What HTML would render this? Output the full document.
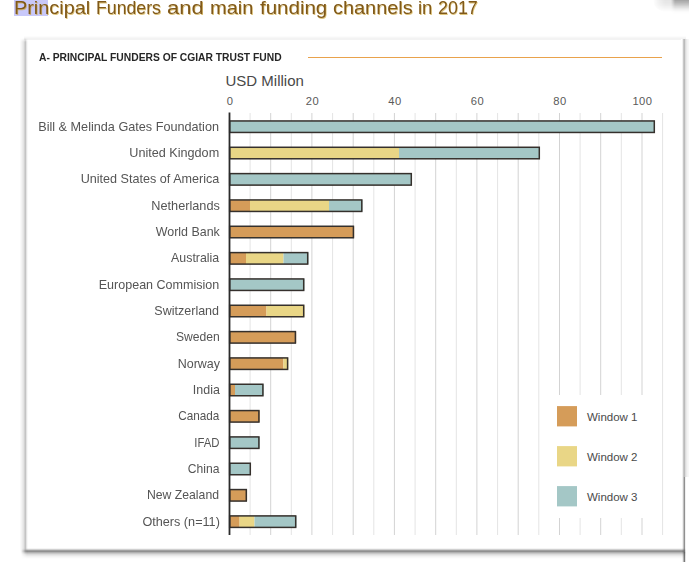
<!DOCTYPE html>
<html><head><meta charset="utf-8"><title>Principal Funders</title>
<style>
html,body{margin:0;padding:0;background:#fff;}
body{width:689px;height:562px;position:relative;overflow:hidden;font-family:"Liberation Sans",sans-serif;}
.hl{position:absolute;left:14px;top:0;width:34px;height:16px;background:#c8c8fa;}
.tw{position:absolute;top:-3.9px;font-size:19px;line-height:24px;color:#80591a;white-space:nowrap;text-shadow:0.7px 0.7px 0.5px rgba(205,165,50,0.65);transform-origin:0 0;}
.blob{position:absolute;left:671px;top:0;width:18px;height:14px;background:linear-gradient(to bottom,rgba(0,0,0,0.29) 0,rgba(0,0,0,0.2) 3px,rgba(0,0,0,0.11) 6px,rgba(0,0,0,0.04) 9px,rgba(0,0,0,0.01) 12px,rgba(0,0,0,0) 14px);-webkit-mask-image:linear-gradient(to right,transparent 0,#000 4px);mask-image:linear-gradient(to right,transparent 0,#000 4px);}
.blob3{position:absolute;left:653px;top:0;width:36px;height:12px;border-bottom-left-radius:14px 12px;background:linear-gradient(to bottom,rgba(0,0,0,0.10) 0,rgba(0,0,0,0.085) 4px,rgba(0,0,0,0.04) 8px,rgba(0,0,0,0) 12px);-webkit-mask-image:linear-gradient(to right,transparent 0,rgba(0,0,0,0.6) 6px,#000 12px);}
.eL{position:absolute;left:20px;top:38px;width:9px;height:516px;background:linear-gradient(to right,rgba(0,0,0,0.0) 0px,rgba(0,0,0,0.02) 0.5px,rgba(0,0,0,0.043) 1.5px,rgba(0,0,0,0.075) 2.5px,rgba(0,0,0,0.106) 3.5px,rgba(0,0,0,0.176) 4.5px,rgba(0,0,0,0.231) 5.5px,rgba(0,0,0,0.106) 6.5px,rgba(0,0,0,0.027) 7.5px,rgba(0,0,0,0.0) 8.5px);-webkit-mask-image:linear-gradient(to bottom,transparent 0,#000 4px,#000 510px,transparent 516px);}
.eR{position:absolute;left:681px;top:39px;width:8px;height:438px;background:linear-gradient(to right,#fff 0.5px,#f0f0f0 1.5px,#c8c8c8 2.5px,#bbbbbb 3.5px,#dcdcdc 4.5px,#eaeaea 5.5px,#f3f3f3 6.5px,#f7f7f7 7.5px);}
.eR2{position:absolute;left:681px;top:477px;width:8px;height:85px;background:linear-gradient(to right,#fff 0.5px,#f0f0f0 1.5px,#c0c0c0 2.5px,#909090 3.5px,#f0f0f0 4.5px,#fff 5.5px);}
.eR3{position:absolute;left:683px;top:552px;width:3px;height:10px;background:linear-gradient(to right,rgba(0,0,0,0) 0,rgba(0,0,0,0.16) 1.5px,rgba(0,0,0,0) 3px);}
.eB{position:absolute;left:21px;top:548px;width:665px;height:11px;background:linear-gradient(to bottom,rgba(0,0,0,0.0) 0px,rgba(0,0,0,0.043) 0.5px,rgba(0,0,0,0.184) 1.5px,rgba(0,0,0,0.373) 2.5px,rgba(0,0,0,0.435) 3.5px,rgba(0,0,0,0.31) 4.5px,rgba(0,0,0,0.216) 5.5px,rgba(0,0,0,0.137) 6.5px,rgba(0,0,0,0.09) 7.5px,rgba(0,0,0,0.051) 8.5px,rgba(0,0,0,0.027) 9.5px,rgba(0,0,0,0.008) 10.5px,rgba(0,0,0,0.0) 11px);-webkit-mask-image:linear-gradient(to right,transparent 0,#000 6px,#000 662px,transparent 665px);}
.eT{position:absolute;left:24px;top:36px;width:662px;height:5px;background:linear-gradient(to bottom,#fff 0,#fcfcfc 0.5px,#f7f7f7 1.5px,#f3f3f3 2.5px,#f3f3f3 3.5px,#fff 4.5px);}
svg{position:absolute;left:0;top:0;}
.head{position:absolute;left:38.6px;top:50.2px;font-size:10.5px;line-height:14px;font-weight:bold;color:#262626;white-space:nowrap;transform-origin:0 0;transform:scaleX(0.98);}
.usd{position:absolute;left:225.5px;top:72.2px;font-size:15px;line-height:18px;color:#484848;white-space:nowrap;transform-origin:0 0;}
.tick{position:absolute;top:94.3px;width:40px;text-align:center;font-size:11.2px;letter-spacing:0.3px;line-height:14px;color:#5a5a5a;}
.lab{position:absolute;right:469.5px;font-size:12.4px;line-height:16px;color:#555;white-space:nowrap;transform-origin:100% 0;}
.leg{position:absolute;left:587px;font-size:11.5px;line-height:16px;color:#4a4a4a;white-space:nowrap;transform-origin:0 0;}
</style></head><body>
<div class="hl"></div>
<span class="tw" style="left:13.7px;transform:scaleX(1.0456)">Principal</span>
<span class="tw" style="left:95.8px;transform:scaleX(0.9318)">Funders</span>
<span class="tw" style="left:167.3px;transform:scaleX(1.1592)">and</span>
<span class="tw" style="left:209.9px;transform:scaleX(1.0542)">main</span>
<span class="tw" style="left:260.3px;transform:scaleX(1.0791)">funding</span>
<span class="tw" style="left:332.9px;transform:scaleX(1.0479)">channels</span>
<span class="tw" style="left:418.1px;transform:scaleX(0.9764)">in</span>
<span class="tw" style="left:437.9px;transform:scaleX(0.9406)">2017</span>
<div class="blob3"></div><div class="blob"></div>
<div class="eT"></div><div class="eL"></div><div class="eR"></div><div class="eR2"></div><div class="eB"></div><div class="eR3"></div>
<svg width="689" height="562" viewBox="0 0 689 562">
<line x1="250.1" y1="113" x2="250.1" y2="535" stroke="#e4e4e4" stroke-width="1"/>
<line x1="270.7" y1="113" x2="270.7" y2="535" stroke="#d3d3d3" stroke-width="1"/>
<line x1="291.3" y1="113" x2="291.3" y2="535" stroke="#e4e4e4" stroke-width="1"/>
<line x1="311.9" y1="113" x2="311.9" y2="535" stroke="#d3d3d3" stroke-width="1"/>
<line x1="332.6" y1="113" x2="332.6" y2="535" stroke="#e4e4e4" stroke-width="1"/>
<line x1="353.2" y1="113" x2="353.2" y2="535" stroke="#d3d3d3" stroke-width="1"/>
<line x1="373.8" y1="113" x2="373.8" y2="535" stroke="#e4e4e4" stroke-width="1"/>
<line x1="394.4" y1="113" x2="394.4" y2="535" stroke="#d3d3d3" stroke-width="1"/>
<line x1="415.1" y1="113" x2="415.1" y2="535" stroke="#e4e4e4" stroke-width="1"/>
<line x1="435.7" y1="113" x2="435.7" y2="535" stroke="#d3d3d3" stroke-width="1"/>
<line x1="456.3" y1="113" x2="456.3" y2="535" stroke="#e4e4e4" stroke-width="1"/>
<line x1="476.9" y1="113" x2="476.9" y2="535" stroke="#d3d3d3" stroke-width="1"/>
<line x1="497.6" y1="113" x2="497.6" y2="535" stroke="#e4e4e4" stroke-width="1"/>
<line x1="518.2" y1="113" x2="518.2" y2="535" stroke="#d3d3d3" stroke-width="1"/>
<line x1="538.8" y1="113" x2="538.8" y2="535" stroke="#e4e4e4" stroke-width="1"/>
<line x1="559.5" y1="113" x2="559.5" y2="535" stroke="#d3d3d3" stroke-width="1"/>
<line x1="580.1" y1="113" x2="580.1" y2="535" stroke="#e4e4e4" stroke-width="1"/>
<line x1="600.7" y1="113" x2="600.7" y2="535" stroke="#d3d3d3" stroke-width="1"/>
<line x1="621.3" y1="113" x2="621.3" y2="535" stroke="#e4e4e4" stroke-width="1"/>
<line x1="642.0" y1="113" x2="642.0" y2="535" stroke="#d3d3d3" stroke-width="1"/>
<line x1="662.6" y1="113" x2="662.6" y2="535" stroke="#e4e4e4" stroke-width="1"/>
<rect x="545" y="395" width="110" height="123" fill="#fff"/>
<rect x="229.5" y="120.95" width="425.5" height="11.50" fill="#a4c7c6"/>
<rect x="229.7" y="120.95" width="424.6" height="11.50" fill="none" stroke="#35302c" stroke-width="1.5"/>
<rect x="229.5" y="147.28" width="169.5" height="11.50" fill="#e9d686"/>
<rect x="399.0" y="147.28" width="141.0" height="11.50" fill="#a4c7c6"/>
<rect x="229.7" y="147.28" width="309.6" height="11.50" fill="none" stroke="#35302c" stroke-width="1.5"/>
<rect x="229.5" y="173.61" width="182.5" height="11.50" fill="#a4c7c6"/>
<rect x="229.7" y="173.61" width="181.6" height="11.50" fill="none" stroke="#35302c" stroke-width="1.5"/>
<rect x="229.5" y="199.94" width="20.5" height="11.50" fill="#d59c59"/>
<rect x="250.0" y="199.94" width="79.0" height="11.50" fill="#e9d686"/>
<rect x="329.0" y="199.94" width="33.5" height="11.50" fill="#a4c7c6"/>
<rect x="229.7" y="199.94" width="132.1" height="11.50" fill="none" stroke="#35302c" stroke-width="1.5"/>
<rect x="229.5" y="226.27" width="124.7" height="11.50" fill="#d59c59"/>
<rect x="229.7" y="226.27" width="123.7" height="11.50" fill="none" stroke="#35302c" stroke-width="1.5"/>
<rect x="229.5" y="252.60" width="16.5" height="11.50" fill="#d59c59"/>
<rect x="246.0" y="252.60" width="37.5" height="11.50" fill="#e9d686"/>
<rect x="283.5" y="252.60" width="25.0" height="11.50" fill="#a4c7c6"/>
<rect x="229.7" y="252.60" width="78.0" height="11.50" fill="none" stroke="#35302c" stroke-width="1.5"/>
<rect x="229.5" y="278.93" width="75.0" height="11.50" fill="#a4c7c6"/>
<rect x="229.7" y="278.93" width="74.0" height="11.50" fill="none" stroke="#35302c" stroke-width="1.5"/>
<rect x="229.5" y="305.26" width="37.0" height="11.50" fill="#d59c59"/>
<rect x="266.5" y="305.26" width="38.0" height="11.50" fill="#e9d686"/>
<rect x="229.7" y="305.26" width="74.0" height="11.50" fill="none" stroke="#35302c" stroke-width="1.5"/>
<rect x="229.5" y="331.59" width="66.7" height="11.50" fill="#d59c59"/>
<rect x="229.7" y="331.59" width="65.7" height="11.50" fill="none" stroke="#35302c" stroke-width="1.5"/>
<rect x="229.5" y="357.92" width="53.9" height="11.50" fill="#d59c59"/>
<rect x="283.4" y="357.92" width="4.9" height="11.50" fill="#e9d686"/>
<rect x="229.7" y="357.92" width="57.9" height="11.50" fill="none" stroke="#35302c" stroke-width="1.5"/>
<rect x="229.5" y="384.25" width="5.5" height="11.50" fill="#d59c59"/>
<rect x="235.0" y="384.25" width="28.7" height="11.50" fill="#a4c7c6"/>
<rect x="229.7" y="384.25" width="33.2" height="11.50" fill="none" stroke="#35302c" stroke-width="1.5"/>
<rect x="229.5" y="410.58" width="30.2" height="11.50" fill="#d59c59"/>
<rect x="229.7" y="410.58" width="29.2" height="11.50" fill="none" stroke="#35302c" stroke-width="1.5"/>
<rect x="229.5" y="436.91" width="30.2" height="11.50" fill="#a4c7c6"/>
<rect x="229.7" y="436.91" width="29.2" height="11.50" fill="none" stroke="#35302c" stroke-width="1.5"/>
<rect x="229.5" y="463.24" width="21.5" height="11.50" fill="#a4c7c6"/>
<rect x="229.7" y="463.24" width="20.6" height="11.50" fill="none" stroke="#35302c" stroke-width="1.5"/>
<rect x="229.5" y="489.57" width="17.6" height="11.50" fill="#d59c59"/>
<rect x="229.7" y="489.57" width="16.6" height="11.50" fill="none" stroke="#35302c" stroke-width="1.5"/>
<rect x="229.5" y="515.90" width="10.1" height="11.50" fill="#d59c59"/>
<rect x="239.6" y="515.90" width="14.9" height="11.50" fill="#e9d686"/>
<rect x="254.5" y="515.90" width="42.0" height="11.50" fill="#a4c7c6"/>
<rect x="229.7" y="515.90" width="66.0" height="11.50" fill="none" stroke="#35302c" stroke-width="1.5"/>
<line x1="229.5" y1="112.5" x2="229.5" y2="535" stroke="#2b2b2b" stroke-width="1.8"/>
<line x1="308" y1="57.5" x2="662" y2="57.5" stroke="#e9a24c" stroke-width="1.2"/>
<rect x="557" y="406.1" width="20" height="20.3" fill="#d59c59"/>
<rect x="557" y="446.1" width="20" height="20.3" fill="#e9d686"/>
<rect x="557" y="486.1" width="20" height="20.3" fill="#a4c7c6"/>
</svg>
<div class="head">A- PRINCIPAL FUNDERS OF CGIAR TRUST FUND</div>
<div class="usd">USD Million</div>
<div class="tick" style="left:209.9px">0</div>
<div class="tick" style="left:292.4px">20</div>
<div class="tick" style="left:374.9px">40</div>
<div class="tick" style="left:457.4px">60</div>
<div class="tick" style="left:539.9px">80</div>
<div class="tick" style="left:622.4px">100</div>
<div class="lab" style="top:118.6px;transform:scaleX(1.0214)">Bill &amp; Melinda Gates Foundation</div>
<div class="lab" style="top:144.9px;transform:scaleX(1.0196)">United Kingdom</div>
<div class="lab" style="top:171.3px;transform:scaleX(1.0170)">United States of America</div>
<div class="lab" style="top:197.6px;transform:scaleX(1.0253)">Netherlands</div>
<div class="lab" style="top:223.9px;transform:scaleX(1.0043)">World Bank</div>
<div class="lab" style="top:250.2px;transform:scaleX(0.9975)">Australia</div>
<div class="lab" style="top:276.6px;transform:scaleX(1.0104)">European Commision</div>
<div class="lab" style="top:302.9px;transform:scaleX(1.0102)">Switzerland</div>
<div class="lab" style="top:329.2px;transform:scaleX(0.9781)">Sweden</div>
<div class="lab" style="top:355.6px;transform:scaleX(1.0071)">Norway</div>
<div class="lab" style="top:381.9px;transform:scaleX(1.0047)">India</div>
<div class="lab" style="top:408.2px;transform:scaleX(0.9492)">Canada</div>
<div class="lab" style="top:434.6px;transform:scaleX(0.9148)">IFAD</div>
<div class="lab" style="top:460.9px;transform:scaleX(0.9761)">China</div>
<div class="lab" style="top:487.2px;transform:scaleX(0.9875)">New Zealand</div>
<div class="lab" style="top:513.5px;transform:scaleX(1.0214)">Others (n=11)</div>
<div class="leg" style="top:409.4px">Window 1</div>
<div class="leg" style="top:449.4px">Window 2</div>
<div class="leg" style="top:489.4px">Window 3</div>
</body></html>
